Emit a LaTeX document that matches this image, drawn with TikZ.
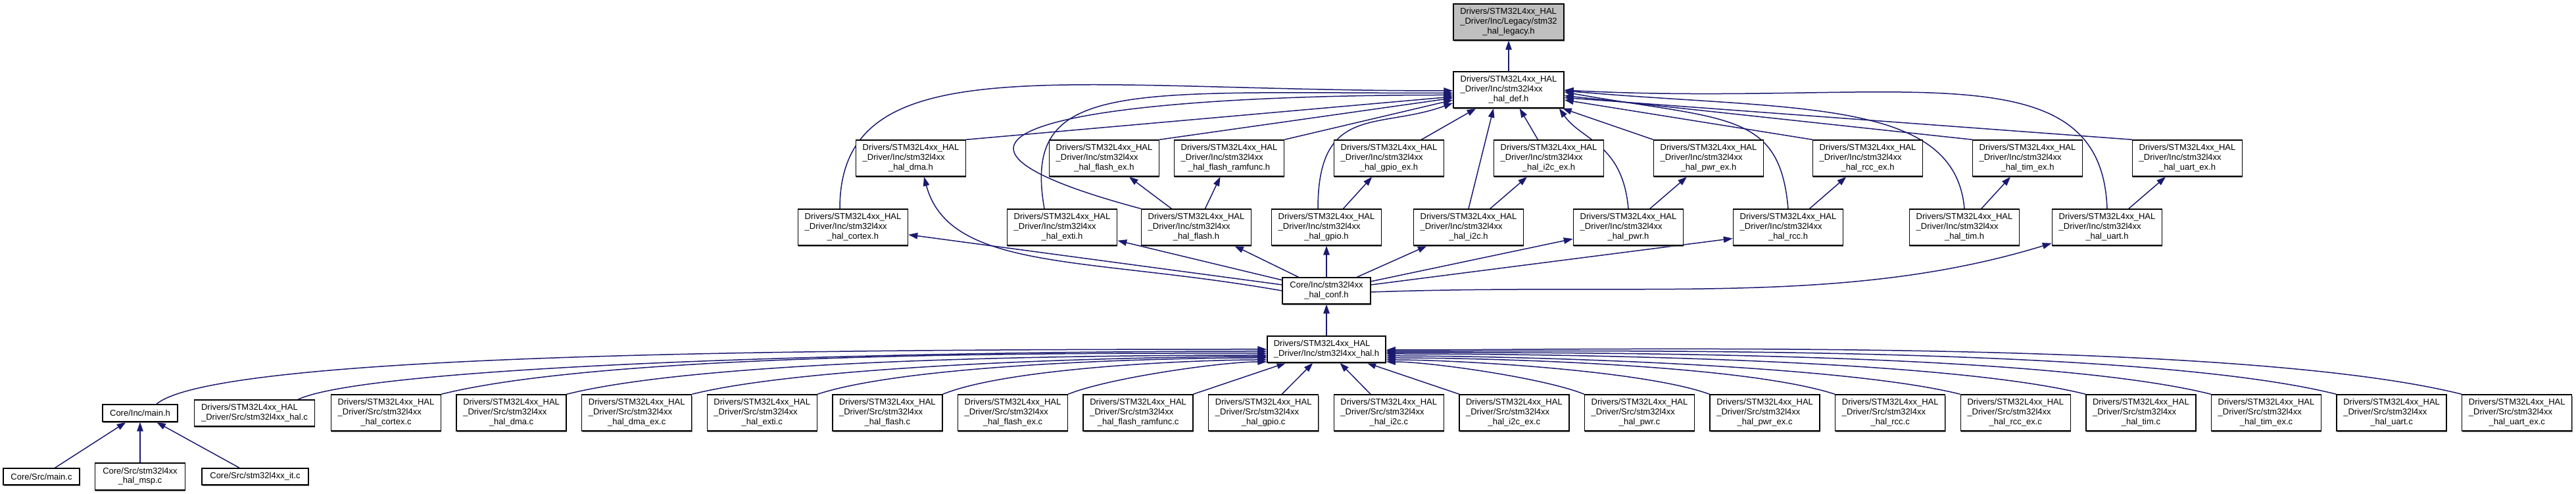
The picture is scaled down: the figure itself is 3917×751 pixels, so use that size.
\documentclass[tikz,border=0pt]{standalone}
\usepackage{fontspec}
\setmainfont{Liberation Sans}
\usepackage{xcolor}
\usepackage{tikz}
\usetikzlibrary{arrows.meta, positioning, shadows, backgrounds}
\definecolor{edgeblue}{HTML}{191970}
\definecolor{rootgray}{HTML}{BFBFBF}
\newcommand{\dfont}{\fontsize{13}{14.7}\selectfont}
\newcommand{\fthree}[3]{\begin{tabular}{@{}l@{}}#1\\#2\\\multicolumn{1}{@{}c@{}}{#3}\end{tabular}}
\newcommand{\ftwo}[2]{\begin{tabular}{@{}l@{}}#1\\\multicolumn{1}{@{}c@{}}{#2}\end{tabular}}
\newcommand{\incfile}[1]{\fthree{Drivers/STM32L4xx\_HAL}{\_Driver/Inc/stm32l4xx}{#1}}
\newcommand{\srcfile}[1]{\fthree{Drivers/STM32L4xx\_HAL}{\_Driver/Src/stm32l4xx}{#1}}
\tikzset{
  bx/.style ={rectangle, draw=black, line width=1.5pt, fill=white, text=black,
              font=\dfont, inner sep=3pt, minimum width=167pt, minimum height=55pt,
              drop shadow={shadow xshift=0.8pt, shadow yshift=-1.6pt,
                           fill=black!60, opacity=0.8}},
  ar/.style ={-{Triangle[length=14pt, width=9.5pt]}, line width=1.5pt, edgeblue}
}

\begin{document}
\begin{tikzpicture}[x=1pt, y=1pt]
\useasboundingbox (0,0) rectangle (3917,751);

%  Top 
\node[bx, fill=rootgray, minimum width=168pt] (legacy) at (2294,717.5)
      {\fthree{Drivers/STM32L4xx\_HAL}{\_Driver/Inc/Legacy/stm32}{\_hal\_legacy.h}};
\node[bx, minimum width=168pt] (def) at (2294,614.5) {\incfile{\_hal\_def.h}};

%  Ex headers 
\node[bx] (hdma)     at (1385,510.5) {\incfile{\_hal\_dma.h}};
\node[bx] (hflashex) at (1679,510.5) {\incfile{\_hal\_flash\_ex.h}};
\node[bx] (hramfunc) at (1869,510.5) {\incfile{\_hal\_flash\_ramfunc.h}};
\node[bx] (hgpioex)  at (2112,510.5) {\incfile{\_hal\_gpio\_ex.h}};
\node[bx] (hi2cex)   at (2355,510.5) {\incfile{\_hal\_i2c\_ex.h}};
\node[bx] (hpwrex)   at (2598,510.5) {\incfile{\_hal\_pwr\_ex.h}};
\node[bx] (hrccex)   at (2840,510.5) {\incfile{\_hal\_rcc\_ex.h}};
\node[bx] (htimex)   at (3083,510.5) {\incfile{\_hal\_tim\_ex.h}};
\node[bx] (huartex)  at (3326,510.5) {\incfile{\_hal\_uart\_ex.h}};

%  Module headers 
\node[bx] (hcortex) at (1297,405.5) {\incfile{\_hal\_cortex.h}};
\node[bx] (hexti)   at (1615,405.5) {\incfile{\_hal\_exti.h}};
\node[bx] (hflash)  at (1819,405.5) {\incfile{\_hal\_flash.h}};
\node[bx] (hgpio)   at (2017,405.5) {\incfile{\_hal\_gpio.h}};
\node[bx] (hi2c)    at (2233,405.5) {\incfile{\_hal\_i2c.h}};
\node[bx] (hpwr)    at (2476,405.5) {\incfile{\_hal\_pwr.h}};
\node[bx] (hrcc)    at (2719,405.5) {\incfile{\_hal\_rcc.h}};
\node[bx] (htim)    at (2987,405.5) {\incfile{\_hal\_tim.h}};
\node[bx] (huart)   at (3204,405.5) {\incfile{\_hal\_uart.h}};

%  Config and HAL 
\node[bx, minimum width=134pt, minimum height=40pt] (conf) at (2017,309)
      {\ftwo{Core/Inc/stm32l4xx}{\_hal\_conf.h}};
\node[bx, minimum width=180pt, minimum height=40pt] (hhal) at (2017,220)
      {\ftwo{Drivers/STM32L4xx\_HAL}{\_Driver/Inc/stm32l4xx\_hal.h}};

%  Sources 
\node[bx, minimum width=114pt, minimum height=26pt] (mainh) at (213,123) {Core/Inc/main.h};
\node[bx, minimum width=183pt, minimum height=40pt] (chal) at (387,123)
      {\ftwo{Drivers/STM32L4xx\_HAL}{\_Driver/Src/stm32l4xx\_hal.c}};
\node[bx] (ccortex) at (587,123.5) {\srcfile{\_hal\_cortex.c}};
\node[bx, right=22.1pt of ccortex]  (cdma)     {\srcfile{\_hal\_dma.c}};
\node[bx, right=22.1pt of cdma]     (cdmaex)   {\srcfile{\_hal\_dma\_ex.c}};
\node[bx, right=22.1pt of cdmaex]   (cexti)    {\srcfile{\_hal\_exti.c}};
\node[bx, right=22.1pt of cexti]    (cflash)   {\srcfile{\_hal\_flash.c}};
\node[bx, right=22.1pt of cflash]   (cflashex) {\srcfile{\_hal\_flash\_ex.c}};
\node[bx, right=22.1pt of cflashex] (cramfunc) {\srcfile{\_hal\_flash\_ramfunc.c}};
\node[bx, right=22.1pt of cramfunc] (cgpio)    {\srcfile{\_hal\_gpio.c}};
\node[bx, right=22.1pt of cgpio]    (ci2c)     {\srcfile{\_hal\_i2c.c}};
\node[bx, right=22.1pt of ci2c]     (ci2cex)   {\srcfile{\_hal\_i2c\_ex.c}};
\node[bx, right=22.1pt of ci2cex]   (cpwr)     {\srcfile{\_hal\_pwr.c}};
\node[bx, right=22.1pt of cpwr]     (cpwrex)   {\srcfile{\_hal\_pwr\_ex.c}};
\node[bx, right=22.1pt of cpwrex]   (crcc)     {\srcfile{\_hal\_rcc.c}};
\node[bx, right=22.1pt of crcc]     (crccex)   {\srcfile{\_hal\_rcc\_ex.c}};
\node[bx, right=22.1pt of crccex]   (ctim)     {\srcfile{\_hal\_tim.c}};
\node[bx, right=22.1pt of ctim]     (ctimex)   {\srcfile{\_hal\_tim\_ex.c}};
\node[bx, right=22.1pt of ctimex]   (cuart)    {\srcfile{\_hal\_uart.c}};
\node[bx, right=22.1pt of cuart]    (cuartex)  {\srcfile{\_hal\_uart\_ex.c}};

%  Core sources 
\node[bx, minimum width=116pt, minimum height=25pt] (cmain) at (63,26.5) {Core/Src/main.c};
\node[bx, minimum width=137pt, minimum height=41pt] (cmsp) at (213,26.5)
      {\ftwo{Core/Src/stm32l4xx}{\_hal\_msp.c}};
\node[bx, minimum width=162pt, minimum height=25pt] (cit) at (388,26.5) {Core/Src/stm32l4xx\_it.c};

%  Connections 
\begin{scope}[on background layer]
\draw[ar] (def) -- (legacy);
\draw[ar] (hdma.north east) -- ([yshift=-10.5pt]def.west);
\draw[ar] (hflashex.north east) -- ([yshift=-12.5pt]def.west);
\draw[ar] (hramfunc.north east) -- ([yshift=-15.5pt]def.west);
\draw[ar] (hgpioex) -- (def);
\draw[ar] (hi2cex) -- (def);
\draw[ar] (hpwrex.north west) -- ([xshift=-3pt]def.south east);
\draw[ar] (hrccex.north west) -- ([yshift=-15.5pt]def.east);
\draw[ar] (htimex.north west) -- ([yshift=-9pt]def.east);
\draw[ar] (huartex.north west) -- ([yshift=-12pt]def.east);

\draw[ar] ([xshift=-20pt]hcortex.north) .. controls +(90:250) and +(180:600) .. ([yshift=-1.5pt]def.west);
\draw[ar] ([xshift=-27pt]hexti.north) .. controls +(100:200) and +(180:500) .. ([yshift=-5pt]def.west);
\draw[ar] (hflash.north west) .. controls +(165:450) and +(180:550) .. ([yshift=-8pt]def.west);
\draw[ar] ([xshift=-13pt]hgpio.north) .. controls +(90:160) and +(200:120) .. ([yshift=-20pt]def.west);
\draw[ar] (hi2c.north) -- ([xshift=-23pt]def.south);
\draw[ar] (hpwr.north) .. controls +(95:100) and +(-55:60) .. ([xshift=-8pt]def.south east);
\draw[ar] (hrcc.north) .. controls +(95:150) and +(-10:250) .. ([yshift=-3.5pt]def.east);
\draw[ar] (htim.north) .. controls +(95:170) and +(-5:350) .. ([yshift=-1.5pt]def.east);
\draw[ar] (huart.north) .. controls +(92:250) and +(-3:500) .. ([yshift=-0.5pt]def.east);

\draw[ar] (hflash) -- (hflashex);
\draw[ar] (hflash) -- (hramfunc);
\draw[ar] (hgpio) -- (hgpioex);
\draw[ar] (hi2c) -- (hi2cex);
\draw[ar] (hpwr) -- (hpwrex);
\draw[ar] (hrcc) -- (hrccex);
\draw[ar] (htim) -- (htimex);
\draw[ar] (huart) -- (huartex);

\draw[ar] (conf) -- (hcortex);
\draw[ar] (conf.west) .. controls +(170:300) and +(-75:150) .. ([xshift=20pt]hdma.south);
\draw[ar] (conf) -- (hexti);
\draw[ar] (conf) -- (hflash);
\draw[ar] (conf) -- (hgpio);
\draw[ar] (conf) -- (hi2c);
\draw[ar] (conf) -- (hpwr);
\draw[ar] ([yshift=9pt]conf.east) -- ([yshift=-17pt]hrcc.west);
\draw[ar] ([yshift=-2pt]conf.east) .. controls +(2:420) and +(197:330) .. ([yshift=4pt]huart.south west);

\draw[ar] (hhal) -- (conf);

\draw[ar] ([xshift=25pt]mainh.north) .. controls +(40:120) and +(180:700) .. (hhal.west);
\draw[ar] ([xshift=-26pt]chal.north east) .. controls +(25:120) and +(180:600) .. ([yshift=-3pt]hhal.west);
\draw[ar] (ccortex.north east) .. controls +(14:270) and +(180:270) .. ([yshift=-6pt]hhal.west);
\draw[ar] (cdma.north east) .. controls +(14:230) and +(180:230) .. ([yshift=-9pt]hhal.west);
\draw[ar] (cdmaex.north east) .. controls +(14:190) and +(180:190) .. ([yshift=-11pt]hhal.west);
\draw[ar] (cexti.north east) .. controls +(18:150) and +(180:150) .. ([yshift=-13pt]hhal.west);
\draw[ar] (cflash.north east) .. controls +(22:108) and +(180:108) .. ([yshift=-16pt]hhal.west);
\draw[ar] (cflashex.north east) .. controls +(22:67) and +(180:67) .. ([yshift=-19pt]hhal.west);
\draw[ar] (cramfunc) -- (hhal);
\draw[ar] (cgpio) -- (hhal);
\draw[ar] (ci2c) -- (hhal);
\draw[ar] (ci2cex) -- (hhal);
\draw[ar] (cpwr.north west) .. controls +(158:66) and +(0:66) .. ([yshift=-19pt]hhal.east);
\draw[ar] (cpwrex.north west) .. controls +(160:106) and +(0:106) .. ([yshift=-16pt]hhal.east);
\draw[ar] (crcc.north west) .. controls +(162:147) and +(0:147) .. ([yshift=-13pt]hhal.east);
\draw[ar] (crccex.north west) .. controls +(166:188) and +(0:188) .. ([yshift=-10pt]hhal.east);
\draw[ar] (ctim.north west) .. controls +(166:229) and +(0:229) .. ([yshift=-7pt]hhal.east);
\draw[ar] (ctimex.north west) .. controls +(166:270) and +(0:270) .. ([yshift=-5pt]hhal.east);
\draw[ar] (cuart.north west) .. controls +(166:311) and +(0:311) .. ([yshift=-3pt]hhal.east);
\draw[ar] (cuartex.north west) .. controls +(166:352) and +(0:352) .. ([yshift=-1pt]hhal.east);

\draw[ar] (cmain) -- (mainh);
\draw[ar] (cmsp) -- (mainh);
\draw[ar] (cit) -- (mainh);
\end{scope}
\end{tikzpicture}
\end{document}
